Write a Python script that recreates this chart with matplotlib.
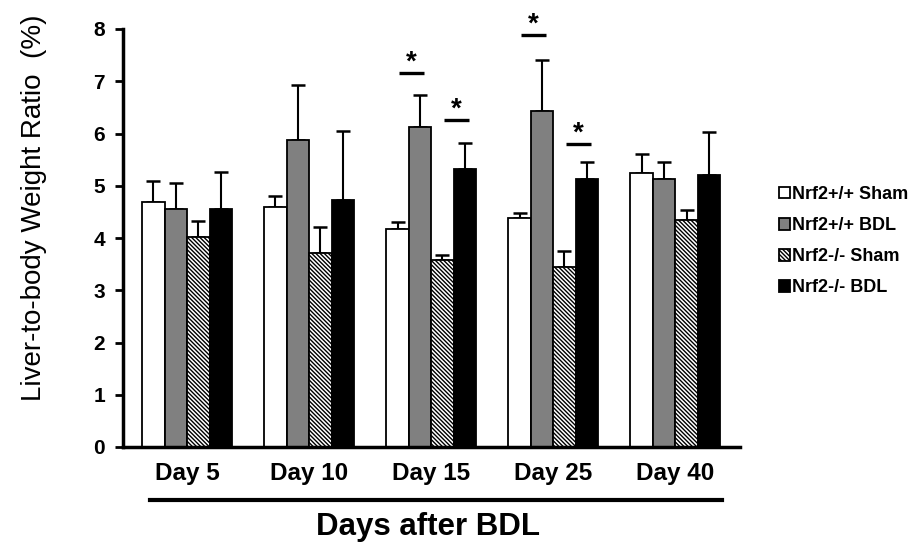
import numpy as np
import matplotlib.pyplot as plt

plt.rcParams['font.family'] = ['Liberation Sans', 'DejaVu Sans']
plt.rcParams['hatch.linewidth'] = 1.0

days = ['Day 5', 'Day 10', 'Day 15', 'Day 25', 'Day 40']
groups = ['Nrf2+/+ Sham', 'Nrf2+/+ BDL', 'Nrf2-/- Sham', 'Nrf2-/- BDL']

wt_sham = [4.68, 4.60, 4.18, 4.38, 5.25]
wt_bdl = [4.55, 5.87, 6.13, 6.43, 5.12]
ko_sham = [4.02, 3.72, 3.58, 3.45, 4.35]
ko_bdl = [4.55, 4.72, 5.33, 5.13, 5.20]

wt_sham_err = [0.42, 0.20, 0.12, 0.10, 0.36]
wt_bdl_err = [0.50, 1.05, 0.60, 0.98, 0.34]
ko_sham_err = [0.30, 0.50, 0.10, 0.30, 0.18]
ko_bdl_err = [0.72, 1.32, 0.48, 0.33, 0.82]

# significance marks: (day index, group index, line height)
sig = [(2, 1, 7.16), (2, 3, 6.26), (3, 1, 7.88), (3, 3, 5.80)]

means = [wt_sham, wt_bdl, ko_sham, ko_bdl]
errs = [wt_sham_err, wt_bdl_err, ko_sham_err, ko_bdl_err]
faces = ['white', '#808080', 'white', 'black']
hatches = [None, None, '\\' * 8, None]

fig = plt.figure(figsize=(9.19, 5.47), dpi=100)
ax = fig.add_axes([123 / 919, 1 - 447 / 547, (740 - 123) / 919, (447 - 29) / 547])

x = np.arange(len(days))
w = 0.184
for i in range(4):
    pos = x + (i - 1.5) * w
    ax.bar(pos, means[i], w, color=faces[i], edgecolor='black', linewidth=1.3,
           hatch=hatches[i], label=groups[i], zorder=2)
    ax.errorbar(pos, means[i], yerr=[np.zeros(5), errs[i]], fmt='none',
                ecolor='black', elinewidth=1.5, capsize=5, capthick=1.8, zorder=1)

for d, g, h in sig:
    cx = x[d] + (g - 1.5) * w - 0.07
    ax.plot([cx - 0.1, cx + 0.1], [h, h], color='black', lw=2.4, solid_capstyle='butt')
    ax.text(cx, h + 0.2, '*', ha='center', va='center', fontsize=20, fontweight='bold')

ax.set_xlim(-0.525, 4.53)
ax.set_ylim(0, 8)
ax.set_yticks(range(9))
ax.set_xticks(x)
ax.set_xticklabels(days, fontsize=17.5, fontweight='bold')
ax.tick_params(axis='x', length=0, pad=11)
ax.tick_params(axis='y', length=6, width=2, labelsize=15, pad=7, direction='out')
for t in ax.get_yticklabels():
    t.set_fontweight('bold')
for s in ['top', 'right']:
    ax.spines[s].set_visible(False)
for s in ['left', 'bottom']:
    ax.spines[s].set_linewidth(2.5)

fig.add_artist(plt.Line2D([150 / 919, 722 / 919], [1 - 500 / 547] * 2, color='black', lw=3))
fig.text(428 / 919, 1 - 527 / 547, 'Days after BDL', ha='center', va='center',
         fontsize=22.5, fontweight='bold')
fig.text(34 / 919, 1 - 208 / 547, 'Liver-to-body Weight Ratio  (%)', ha='center', va='center',
         rotation=90, fontsize=20)

leg = ax.legend(loc='upper left', bbox_to_anchor=(779 / 919, 1 - 186 / 547),
                bbox_transform=fig.transFigure, frameon=False, handlelength=0.62,
                handleheight=0.62, handletextpad=0.1, labelspacing=0.78, borderpad=0,
                borderaxespad=0, prop={'size': 13, 'weight': 'bold'})

fig.savefig('out.png', dpi=100)
